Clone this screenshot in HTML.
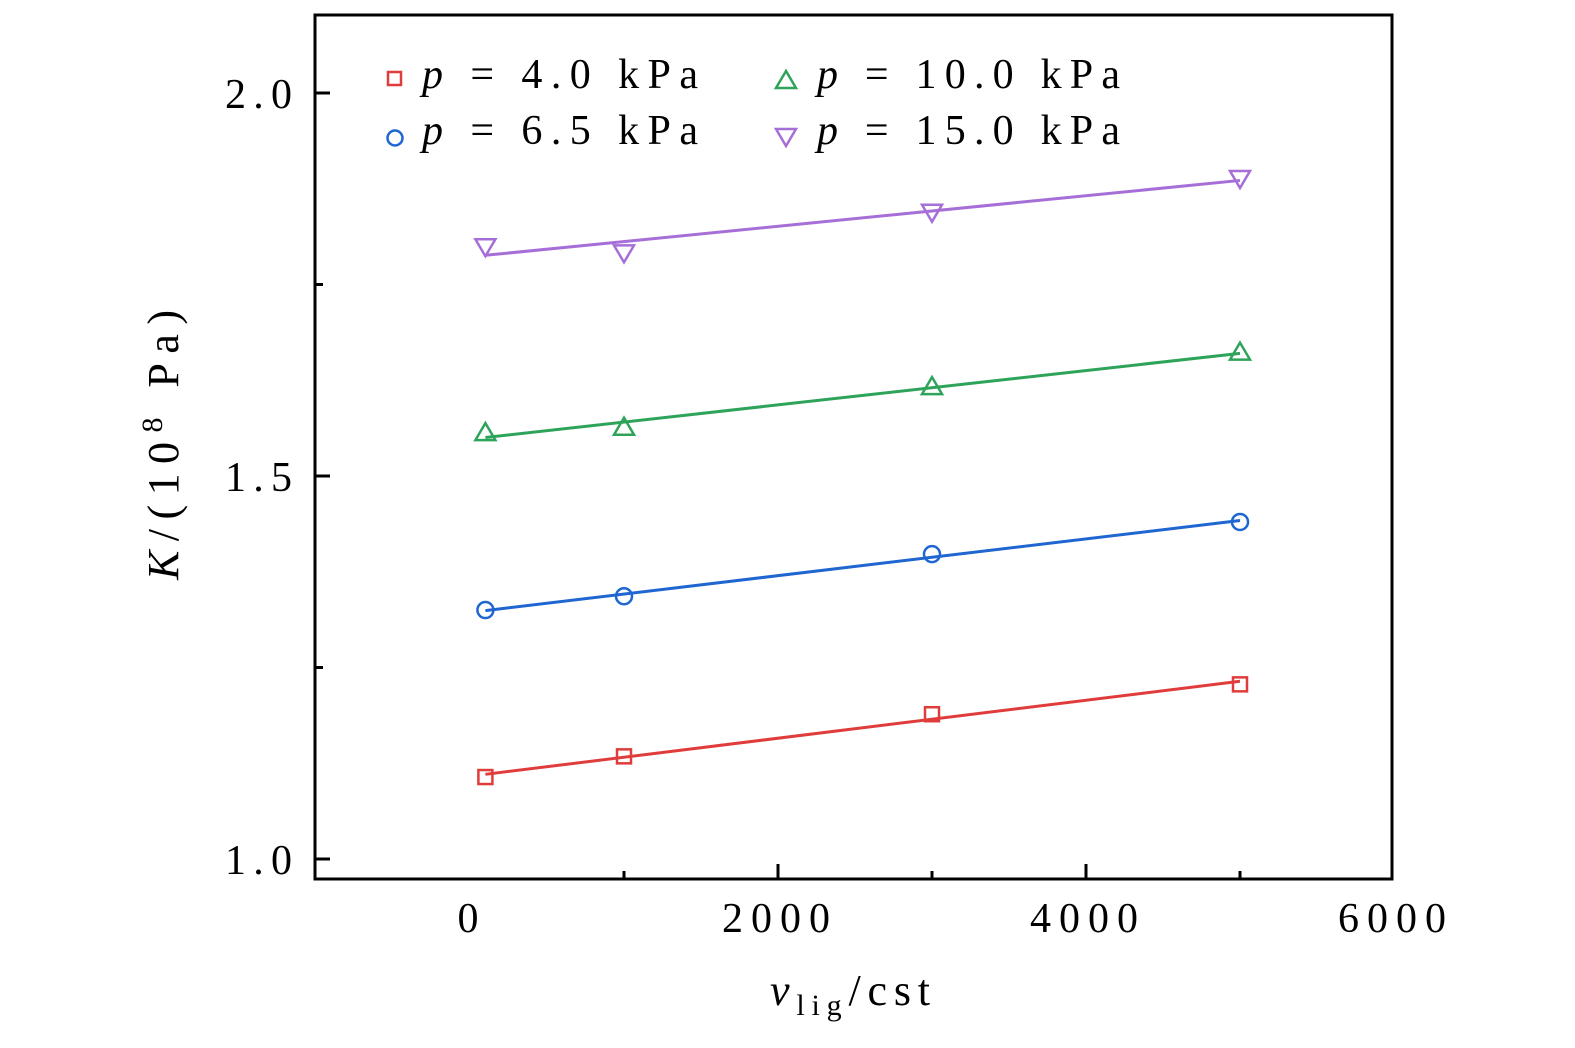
<!DOCTYPE html>
<html><head><meta charset="utf-8"><style>
body{margin:0;background:#fff;width:1575px;height:1043px;overflow:hidden}
text{font-family:"Liberation Serif",serif;fill:#000}
</style></head><body>
<svg id="chart" width="1575" height="1043" xmlns="http://www.w3.org/2000/svg">
<rect x="315" y="15" width="1077" height="864" fill="none" stroke="#000" stroke-width="3"/>
<g id="axes"></g><g id="series"></g>
<g font-size="42">
<rect x="388" y="72" width="13" height="13" fill="none" stroke="#e03c3c" stroke-width="2.5"/>
<text x="422" y="88" textLength="276" lengthAdjust="spacing"><tspan font-style="italic">p</tspan> = 4.0 kPa</text>
<circle cx="395" cy="138" r="7.5" fill="none" stroke="#1f66d1" stroke-width="2.5"/>
<text x="422" y="144" textLength="276" lengthAdjust="spacing"><tspan font-style="italic">p</tspan> = 6.5 kPa</text>
<polygon points="786,71 776,88 796,88" fill="none" stroke="#2ea35a" stroke-width="2.5"/>
<text x="817" y="88" textLength="303" lengthAdjust="spacing"><tspan font-style="italic">p</tspan> = 10.0 kPa</text>
<polygon points="786,146 776,129 796,129" fill="none" stroke="#a66fd8" stroke-width="2.5"/>
<text x="817" y="144" textLength="303" lengthAdjust="spacing"><tspan font-style="italic">p</tspan> = 15.0 kPa</text>
</g>
<text x="770" y="1005" font-size="44" textLength="160" lengthAdjust="spacing"><tspan font-style="italic">ν</tspan><tspan font-size="30" dy="10">lig</tspan><tspan dy="-10">/cst</tspan></text>
<text transform="translate(178,580) rotate(-90)" font-size="44" textLength="270" lengthAdjust="spacing"><tspan font-style="italic">K</tspan>/(10<tspan font-size="30" dy="-16">8</tspan><tspan dy="16"> Pa)</tspan></text>
</svg>
<script>
const xVals=[100,1000,3000,5000];
const red=[1.107,1.134,1.189,1.228];
const blue=[1.325,1.343,1.398,1.440];
const green=[1.556,1.563,1.616,1.661];
const purple=[1.800,1.792,1.845,1.889];
const xTicks=[0,2000,4000,6000];
const xMinor=[1000,3000,5000];
const yTicks=[1.0,1.5,2.0];
const yTickLabels=["1.0","1.5","2.0"];
const yMinor=[1.25,1.75];
const NS="http://www.w3.org/2000/svg";
const X=v=>470+(v)*0.154;
const Y=v=>859-(v-1)*766;
const ax=document.getElementById('axes'),sg=document.getElementById('series');
function mk(tag,attrs,parent){const e=document.createElementNS(NS,tag);for(const k in attrs)e.setAttribute(k,attrs[k]);parent.appendChild(e);return e;}
xTicks.forEach(t=>{
 if(t>0&&t<6000){const l=mk('line',{x1:X(t),x2:X(t),y1:879,y2:864,stroke:'#000','stroke-width':3},ax);
 
 }
 const s=String(t);
 const tx=mk('text',{x:X(t)-2,y:932,'font-size':42,'text-anchor':'middle',textLength:27*s.length,lengthAdjust:'spacing'},ax);tx.textContent=s;
 
 
});
xMinor.forEach(t=>{const l=mk('line',{x1:X(t),x2:X(t),y1:879,y2:871,stroke:'#000','stroke-width':3},ax);
 
 });
yTicks.forEach((t,i)=>{const l=mk('line',{x1:315,x2:330,y1:Y(t),y2:Y(t),stroke:'#000','stroke-width':3},ax);
 
 
 const tx=mk('text',{x:225,y:Y(t)+15,'font-size':42,textLength:67,lengthAdjust:'spacing'},ax);tx.textContent=yTickLabels[i];
 
 });
yMinor.forEach(t=>{const l=mk('line',{x1:315,x2:323,y1:Y(t),y2:Y(t),stroke:'#000','stroke-width':3},ax);
 
 });
function fit(ys){const n=xVals.length,mx=xVals.reduce((a,b)=>a+b)/n,my=ys.reduce((a,b)=>a+b)/n;let sxy=0,sxx=0;xVals.forEach((x,i)=>{sxy+=(x-mx)*(ys[i]-my);sxx+=(x-mx)**2});const b=sxy/sxx;return [my-b*mx,b];}
const S=[[red,'#e03c3c','square','p-4kpa'],[blue,'#1f66d1','circle','p-6.5kpa'],[green,'#2ea35a','up','p-10kpa'],[purple,'#a66fd8','down','p-15kpa']];
S.forEach(([ys,c,m,nm])=>{
 const [a,b]=fit(ys);const x0=xVals[0],x1=xVals[xVals.length-1];
 const l=mk('line',{x1:X(x0),x2:X(x1),y1:Y(a+b*x0),y2:Y(a+b*x1),stroke:c,'stroke-width':3},sg);
 
 
 ys.forEach((v,i)=>{const cx=X(xVals[i]),cy=Y(v);let e;
  if(m==='square')e=mk('rect',{x:cx-7,y:cy-7,width:14,height:14},sg);
  else if(m==='circle')e=mk('circle',{cx:cx,cy:cy,r:8},sg);
  else if(m==='up')e=mk('polygon',{points:`${cx},${cy-10} ${cx-10},${cy+7} ${cx+10},${cy+7}`},sg);
  else e=mk('polygon',{points:`${cx},${cy+10} ${cx-10},${cy-7} ${cx+10},${cy-7}`},sg);
  e.setAttribute('fill','none');e.setAttribute('stroke',c);e.setAttribute('stroke-width','2.5');
  
  });
});
</script>
</body></html>
